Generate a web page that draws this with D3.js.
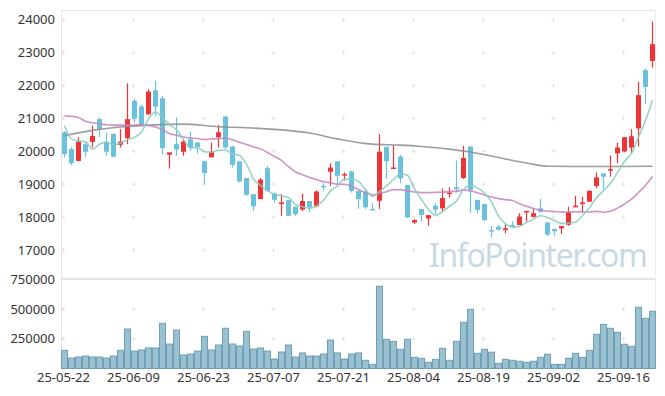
<!DOCTYPE html>
<html>
<head>
<meta charset="utf-8">
<script src="https://cdn.jsdelivr.net/npm/d3@7"></script>
<style>
  body { margin: 0; background: #fff; }
  svg { display: block; font-family: "Noto Sans", "Liberation Sans", sans-serif; }
</style>
</head>
<body>
<svg id="chart"></svg>
<script>
// trading days shown (yy-mm-dd)
const dates = [
  "25-05-22","25-05-23","25-05-26","25-05-27","25-05-28","25-05-29","25-05-30","25-06-02","25-06-04","25-06-05",
  "25-06-09","25-06-10","25-06-11","25-06-12","25-06-13","25-06-16","25-06-17","25-06-18","25-06-19","25-06-20",
  "25-06-23","25-06-24","25-06-25","25-06-26","25-06-27","25-06-30","25-07-01","25-07-02","25-07-03","25-07-04",
  "25-07-07","25-07-08","25-07-09","25-07-10","25-07-11","25-07-14","25-07-15","25-07-16","25-07-17","25-07-18",
  "25-07-21","25-07-22","25-07-23","25-07-24","25-07-25","25-07-28","25-07-29","25-07-30","25-07-31","25-08-01",
  "25-08-04","25-08-05","25-08-06","25-08-07","25-08-08","25-08-11","25-08-12","25-08-13","25-08-14","25-08-18",
  "25-08-19","25-08-20","25-08-21","25-08-22","25-08-25","25-08-26","25-08-27","25-08-28","25-08-29","25-09-01",
  "25-09-02","25-09-03","25-09-04","25-09-05","25-09-08","25-09-09","25-09-10","25-09-11","25-09-12","25-09-15",
  "25-09-16","25-09-17","25-09-18","25-09-19","25-09-22"
];

const open = [
  20580,20070,19710,20220,20290,20980,20290,20530,20200,20400,
  21540,21370,21130,21860,21620,19900,20220,19990,20370,20270,
  19700,19820,20430,21060,20150,19700,19190,18700,18550,19490,
  18720,18400,18520,18320,18230,18490,18330,18950,19380,19700,
  19290,19390,18800,18780,18250,18500,20140,19480,19840,18980,
  17840,18250,17960,18350,18270,18720,18910,19190,20150,18520,
  18400,17610,17710,17610,17760,17760,18160,18010,18270,17840,
  17640,17660,17770,18300,18400,18470,18950,19330,19430,19940,
  20000,20120,20700,22470,22750
];
const high = [
  20610,20120,20430,20270,20780,21030,20580,20550,20680,22070,
  21610,21420,21890,22150,21690,19970,21030,20370,20600,20290,
  19700,20270,20810,21080,20170,19700,19190,18700,19190,19560,
  18750,18700,18520,18320,18720,18490,18820,19030,19640,19700,
  19360,19410,18800,18820,18420,20530,20140,20200,19890,18980,
  17940,18250,18060,18420,18870,18910,19720,20170,20150,18520,
  18400,17740,17760,17790,17870,18120,18190,18250,18550,17840,
  17660,17730,18320,18650,18620,18820,19360,19330,19870,20270,
  20440,20680,22120,22520,23950
];
const low = [
  19820,19580,19700,19820,20120,20440,19870,19820,20120,20220,
  20880,20780,21100,21080,19900,19480,19870,19870,20020,19940,
  19010,19820,20120,20070,19510,19060,18650,18190,18550,18780,
  18450,18040,18040,18040,18190,18160,18300,18800,18950,19010,
  19110,18750,18250,18250,18230,18250,19160,19480,19030,17970,
  17790,17870,17740,18090,18190,18600,18750,19160,18130,18120,
  17880,17390,17590,17510,17690,17760,17860,17990,18150,17430,
  17430,17490,17740,18300,18150,18470,18880,18850,19230,19640,
  19970,19940,20150,21440,22550
];
const close = [
  19920,19640,20300,19990,20470,20680,19990,19840,20300,20980,
  21000,20830,21820,21360,20100,19970,20060,20300,20120,20140,
  19340,19990,20580,20120,19590,19090,18680,18330,19140,18800,
  18530,18450,18040,18090,18490,18300,18780,18920,19510,19260,
  19310,18800,18550,18300,18230,19990,19700,19510,19180,17990,
  17910,18070,18060,18230,18580,18750,18850,19800,18830,18220,
  17910,17570,17620,17660,17720,18020,18190,18120,18160,17470,
  17570,17730,18150,18350,18450,18800,19210,19230,19460,20120,
  20430,20460,21710,21960,23260
];
const volume = [
  153000,88000,97000,105000,97000,97000,88000,105000,153000,333000,
  147000,156000,173000,173000,381000,206000,324000,114000,122000,147000,
  271000,156000,198000,339000,206000,190000,313000,164000,173000,147000,
  80000,139000,198000,97000,131000,105000,105000,122000,240000,131000,
  80000,122000,131000,69000,35000,693000,246000,229000,162000,246000,
  94000,86000,52000,77000,170000,69000,229000,389000,499000,128000,
  162000,137000,44000,77000,69000,61000,52000,61000,94000,120000,
  35000,35000,86000,128000,94000,153000,288000,372000,339000,305000,
  204000,187000,516000,423000,482000
];

// moving-average values before enough visible days exist
const ma5Lead = [20780, 20380, 20320, 20300];
const ma20Lead = [21080,21070,21030,20920,20870,20840,20810,20800,20800,20800,
                  20805,20810,20790,20740,20660,20540,20490,20440,20410];
// long moving average, read at [day index, value]
const ma60Points = [[0,20474],[4,20640],[8,20740],[12,20800],[17,20830],[22,20750],
  [26,20720],[30,20670],[35,20560],[39,20380],[44,20220],[48,20190],[51,20150],
  [55,20070],[58,19980],[63,19770],[66,19650],[69,19550],[74,19540],[79,19540],[84,19550]];

const priceTicks = [17000,18000,19000,20000,21000,22000,23000,24000];
const volumeTicks = [250000,500000,750000];
const tickDates = ["25-05-22","25-06-09","25-06-23","25-07-07","25-07-21","25-08-04","25-08-19","25-09-02","25-09-16"];

const W = 665, H = 396;
const plot = {left: 61, right: 655, top: 10, split: 279, bottom: 368.5};

const svg = d3.select("#chart").attr("width", W).attr("height", H);

const x = d3.scaleBand().domain(d3.range(dates.length)).range([plot.left, plot.right + 1]).padding(0);
const xc = i => x(i) + x.bandwidth() / 2;
const y = d3.scaleLinear().domain([16120, 24300]).range([plot.split, plot.top]);
const yv = d3.scaleLinear().domain([0, 750000]).range([plot.bottom, plot.split + 0.5]);

// derived averages
const ma5 = close.map((c, i) => i < 4 ? ma5Lead[i] : d3.mean(close.slice(i - 4, i + 1)));
const ma20 = close.map((c, i) => i < 19 ? ma20Lead[i] : d3.mean(close.slice(i - 19, i + 1)));

// frame
const frame = svg.append("g");
frame.append("line").attr("x1", plot.left).attr("x2", plot.right).attr("y1", plot.top + 0.5).attr("y2", plot.top + 0.5)
  .attr("stroke", "#e6e6e6");
frame.append("line").attr("x1", plot.left + 0.5).attr("x2", plot.left + 0.5).attr("y1", plot.top).attr("y2", plot.bottom)
  .attr("stroke", "#e3e3e3");
frame.append("line").attr("x1", plot.right + 0.5).attr("x2", plot.right + 0.5).attr("y1", plot.top).attr("y2", plot.bottom)
  .attr("stroke", "#ececec");

// grid "+" markers
const tickIdx = tickDates.map(d => dates.indexOf(d));
const marks = [];
tickIdx.forEach(i => {
  priceTicks.forEach(v => marks.push([xc(i) - 1, y(v)]));
  volumeTicks.slice(0, 2).forEach(v => marks.push([xc(i) - 1, yv(v)]));
});
svg.append("g").selectAll("path").data(marks).join("path")
  .attr("d", d => `M${d[0] - 2},${d[1]}h4M${d[0]},${d[1] - 2}v4`)
  .attr("stroke", "#e2e2e2").attr("stroke-width", 1);

// watermark
svg.append("text")
  .attr("x", 648).attr("y", 267)
  .attr("text-anchor", "end")
  .attr("font-size", 32)
  .attr("textLength", 219)
  .attr("fill", "#c9d9e4")
  .text("InfoPointer.com");

// volume bars
svg.append("g").selectAll("rect").data(volume).join("rect")
  .attr("x", (d, i) => x(i) + 0.5)
  .attr("width", x.bandwidth() - 1)
  .attr("y", d => yv(d))
  .attr("height", d => plot.bottom - yv(d))
  .attr("fill", "#9bc1d1")
  .attr("stroke", "#6d9fb6")
  .attr("stroke-width", 1);

// divider between panels
svg.append("line").attr("x1", plot.left).attr("x2", plot.right).attr("y1", plot.split).attr("y2", plot.split)
  .attr("stroke", "#e4e4e4").attr("stroke-width", 2);

// candles
const up = "#ee3437", down = "#6bc1db";
const candle = svg.append("g").selectAll("g").data(dates).join("g");
candle.append("line")
  .attr("x1", (d, i) => xc(i)).attr("x2", (d, i) => xc(i))
  .attr("y1", (d, i) => y(high[i])).attr("y2", (d, i) => y(low[i]))
  .attr("stroke", (d, i) => close[i] >= open[i] ? up : down)
  .attr("stroke-width", 1.2);
candle.append("rect")
  .attr("x", (d, i) => xc(i) - 2.5)
  .attr("width", 5)
  .attr("y", (d, i) => y(Math.max(open[i], close[i])))
  .attr("height", (d, i) => Math.max(1.5, Math.abs(y(open[i]) - y(close[i]))))
  .attr("fill", (d, i) => close[i] >= open[i] ? up : down);

// moving average lines
const lineGen = d3.line().x(d => xc(d[0])).y(d => y(d[1])).curve(d3.curveMonotoneX);
const maLines = [
  {pts: ma60Points, color: "#8c8c8c"},
  {pts: ma20.map((v, i) => [i, v]), color: "#c87fbf"},
  {pts: ma5.map((v, i) => [i, v]), color: "#86cbbd"}
];
svg.append("g").selectAll("path").data(maLines).join("path")
  .attr("d", d => lineGen(d.pts))
  .attr("fill", "none")
  .attr("stroke", d => d.color)
  .attr("stroke-width", 1.6)
  .attr("stroke-opacity", 0.85);

// axis labels
const lab = svg.append("g").attr("fill", "#333").attr("font-size", 13);
lab.selectAll(".py").data(priceTicks).join("text").attr("class", "py")
  .attr("x", 55).attr("y", d => y(d)).attr("dy", "0.35em").attr("text-anchor", "end").text(d => d);
lab.selectAll(".vy").data(volumeTicks).join("text").attr("class", "vy")
  .attr("x", 55).attr("y", d => yv(d)).attr("dy", "0.35em").attr("text-anchor", "end").text(d => d);
lab.selectAll(".tx").data(tickIdx).join("text").attr("class", "tx")
  .attr("x", i => xc(i) - 1).attr("y", 382).attr("text-anchor", "middle").text(i => dates[i]);
</script>
</body>
</html>
